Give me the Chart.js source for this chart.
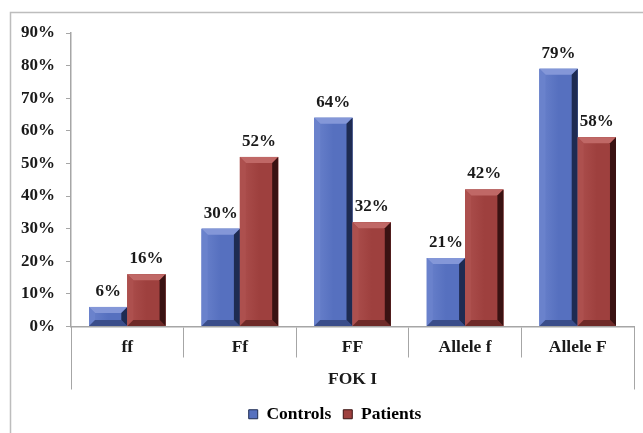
<!DOCTYPE html>
<html>
<head>
<meta charset="utf-8">
<script src="https://cdn.jsdelivr.net/npm/chart.js@4/dist/chart.umd.min.js"></script>
<style>
  html, body { margin: 0; padding: 0; background: #ffffff; }
  #wrap { position: relative; width: 643px; height: 433px; }
</style>
</head>
<body>
<div id="wrap"><canvas id="c" width="643" height="433"></canvas></div>
<script>
const categories = ['ff', 'Ff', 'FF', 'Allele f', 'Allele F'];
const groupLabel = 'FOK I';
const controls = [6, 30, 64, 21, 79];
const patients = [16, 52, 32, 42, 58];
const seriesNames = ['Controls', 'Patients'];
const yTicks = [0, 10, 20, 30, 40, 50, 60, 70, 80, 90];

const FONT = 'Liberation Serif';
const shades = {
  Controls: { face: '#5670bf', light: '#8497d8', lightSide: '#6a82cc', dark: '#1e2b52', bottom: '#3a4d8a' },
  Patients: { face: '#9e403e', light: '#c06866', lightSide: '#ad504e', dark: '#3a1212', bottom: '#6e2a28' }
};

const bevelPlugin = {
  id: 'bevel',
  afterDatasetsDraw(chart) {
    const ctx = chart.ctx;
    chart.data.datasets.forEach((ds, di) => {
      const meta = chart.getDatasetMeta(di);
      const s = shades[ds.label];
      meta.data.forEach(el => {
        const { x, y, base, width } = el.getProps(['x', 'y', 'base', 'width'], true);
        const l = x - width / 2, r = x + width / 2, t = y, b = base;
        const h = b - t;
        const bv = Math.min(6, h / 2.2);
        ctx.save();
        const g = ctx.createLinearGradient(l, 0, r, 0);
        g.addColorStop(0, s.lightSide);
        g.addColorStop(0.5, s.face);
        g.addColorStop(1, s.face);
        ctx.fillStyle = g;
        ctx.fillRect(l, t, width, h);
        ctx.fillStyle = s.light;
        ctx.beginPath();
        ctx.moveTo(l, t); ctx.lineTo(r, t); ctx.lineTo(r - bv, t + bv); ctx.lineTo(l + bv, t + bv); ctx.closePath(); ctx.fill();
        ctx.fillStyle = s.lightSide;
        ctx.beginPath();
        ctx.moveTo(l, t); ctx.lineTo(l + bv, t + bv); ctx.lineTo(l + bv, b - bv); ctx.lineTo(l, b); ctx.closePath(); ctx.fill();
        ctx.fillStyle = s.bottom;
        ctx.beginPath();
        ctx.moveTo(l, b); ctx.lineTo(l + bv, b - bv); ctx.lineTo(r - bv, b - bv); ctx.lineTo(r, b); ctx.closePath(); ctx.fill();
        ctx.fillStyle = s.dark;
        ctx.beginPath();
        ctx.moveTo(r, t); ctx.lineTo(r, b); ctx.lineTo(r - bv, b - bv); ctx.lineTo(r - bv, t + bv); ctx.closePath(); ctx.fill();
        ctx.restore();
      });
    });
  }
};

const labelPlugin = {
  id: 'valueLabels',
  afterDatasetsDraw(chart) {
    const ctx = chart.ctx;
    ctx.save();
    ctx.font = 'bold 17px "' + FONT + '"';
    ctx.fillStyle = '#1a1a1a';
    ctx.textAlign = 'center';
    ctx.textBaseline = 'bottom';
    chart.data.datasets.forEach((ds, di) => {
      const meta = chart.getDatasetMeta(di);
      meta.data.forEach((el, i) => {
        ctx.fillText(ds.data[i] + '%', el.x, el.y - 7);
      });
    });
    ctx.restore();
  }
};

const framePlugin = {
  id: 'frame',
  afterLayout(chart) {
    if (chart.legend) {
      chart.legend.left += 9;
      chart.legend.right += 9;
    }
  },
  beforeDraw(chart) {
    const ctx = chart.ctx;
    ctx.save();
    ctx.strokeStyle = '#bdbdbd';
    ctx.lineWidth = 1.5;
    ctx.beginPath();
    ctx.moveTo(10.5, chart.height + 2);
    ctx.lineTo(10.5, 12.5);
    ctx.lineTo(chart.width + 2, 12.5);
    ctx.stroke();
    ctx.restore();
  },
  afterDraw(chart) {
    const xs = chart.scales.x;
    const ctx = chart.ctx;
    ctx.save();
    ctx.strokeStyle = '#a6a6a6';
    ctx.lineWidth = 1;
    ctx.beginPath();
    [xs.left, xs.right].forEach(px => {
      const p = Math.round(px) + 0.5;
      ctx.moveTo(p, xs.top);
      ctx.lineTo(p, xs.top + 63);
    });
    ctx.stroke();
    ctx.restore();
  }
};

new Chart(document.getElementById('c'), {
  type: 'bar',
  data: {
    labels: categories,
    datasets: [
      { label: seriesNames[0], data: controls, backgroundColor: shades.Controls.face },
      { label: seriesNames[1], data: patients, backgroundColor: shades.Patients.face }
    ]
  },
  options: {
    responsive: false,
    animation: false,
    devicePixelRatio: 1,
    layout: { padding: { left: 18, right: 9, top: 33, bottom: 0 } },
    datasets: { bar: { categoryPercentage: 0.68, barPercentage: 1.0 } },
    plugins: {
      tooltip: { enabled: false },
      legend: {
        position: 'bottom',
        labels: {
          font: { family: FONT, size: 17.5, weight: 'bold' },
          color: '#1a1a1a',
          boxWidth: 9,
          boxHeight: 9,
          padding: 12,
          generateLabels(chart) {
            return chart.data.datasets.map((ds, i) => ({
              text: ds.label,
              fillStyle: shades[ds.label].face,
              strokeStyle: shades[ds.label].dark,
              lineWidth: 1,
              datasetIndex: i,
              hidden: false
            }));
          }
        }
      }
    },
    scales: {
      x: {
        afterFit(scale) { scale.height = 67; },
        border: { display: true, color: '#a6a6a6', width: 1.5 },
        grid: { offset: true, drawOnChartArea: false, drawTicks: true, tickLength: 31, color: '#a6a6a6' },
        ticks: { font: { family: FONT, size: 17.5, weight: 'bold' }, color: '#1a1a1a', padding: -21, maxRotation: 0 },
        title: { display: true, text: groupLabel, font: { family: FONT, size: 17.5, weight: 'bold' }, color: '#1a1a1a', padding: { top: 0, bottom: 4 } }
      },
      y: {
        min: 0,
        max: 90,
        afterFit(scale) { scale.width = 53; },
        afterBuildTicks(scale) { scale.ticks = yTicks.map(v => ({ value: v })); },
        border: { display: true, color: '#a6a6a6', width: 1.5 },
        grid: { drawOnChartArea: false, drawTicks: true, tickLength: 5, color: '#a6a6a6' },
        ticks: {
          font: { family: FONT, size: 17, weight: 'bold' },
          color: '#1a1a1a',
          padding: 11,
          callback: v => v + '%'
        }
      }
    }
  },
  plugins: [framePlugin, bevelPlugin, labelPlugin]
});
</script>
</body>
</html>
